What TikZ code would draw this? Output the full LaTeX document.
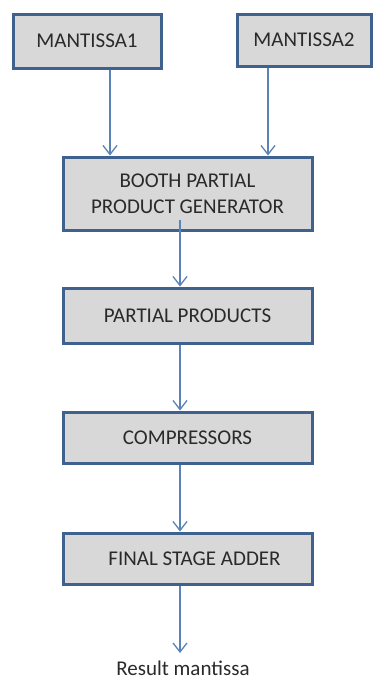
\documentclass[tikz,border=0pt]{standalone}
\usepackage{fontspec}
\setmainfont{Carlito}
\usetikzlibrary{arrows.meta}
\definecolor{boxfill}{HTML}{D8D8D8}
\definecolor{boxline}{HTML}{3E618E}
\definecolor{arrowline}{HTML}{5A84B8}
\definecolor{txt}{HTML}{2A2A2A}
\begin{document}
\begin{tikzpicture}[x=1pt,y=-1pt,
  blockbox/.style={draw=boxline, line width=3pt, fill=boxfill, rectangle, inner sep=0pt,
    text=txt, font=\fontsize{21}{26}\selectfont, align=center},
  flow/.style={draw=arrowline, line width=1.3pt, -{Straight Barb[length=9pt,width=14pt,line width=1.3pt]}}
]
\useasboundingbox (0,0) rectangle (374,680);
\fill[white] (0,0) rectangle (374,680);

\node[blockbox, minimum width=148pt, minimum height=54pt] (m1) at (87,41) {MANTISSA1};
\node[blockbox, minimum width=134pt, minimum height=52pt] (m2) at (304,40) {MANTISSA2};
\node[blockbox, minimum width=249pt, minimum height=73pt] (booth) at (187.5,193.5) {BOOTH PARTIAL\\PRODUCT GENERATOR};
\node[blockbox, minimum width=249pt, minimum height=55pt] (pp) at (187.5,315.5) {PARTIAL PRODUCTS};
\node[blockbox, minimum width=249pt, minimum height=51pt] (comp) at (187.5,437.5) {COMPRESSORS};
\node[blockbox, minimum width=249pt, minimum height=51pt] (fsa) at (187.5,558.5) {\hspace{14pt}FINAL STAGE ADDER};
\node[text=txt, font=\fontsize{21}{26}\selectfont, inner sep=0pt] (res) at (183,668) {Result mantissa};

\coordinate (a1) at (110,0);
\coordinate (a2) at (268,0);
\coordinate (bstart) at (180,220);
\coordinate (rend) at (180,653);

\draw[flow] (m1.south -| a1) -- (booth.north -| a1);
\draw[flow] (m2.south -| a2) -- (booth.north -| a2);
\draw[flow] (bstart) -- (pp.north -| bstart);
\draw[flow] (pp.south -| bstart) -- (comp.north -| bstart);
\draw[flow] (comp.south -| bstart) -- (fsa.north -| bstart);
\draw[flow] (fsa.south -| bstart) -- (rend);
\end{tikzpicture}
\end{document}
